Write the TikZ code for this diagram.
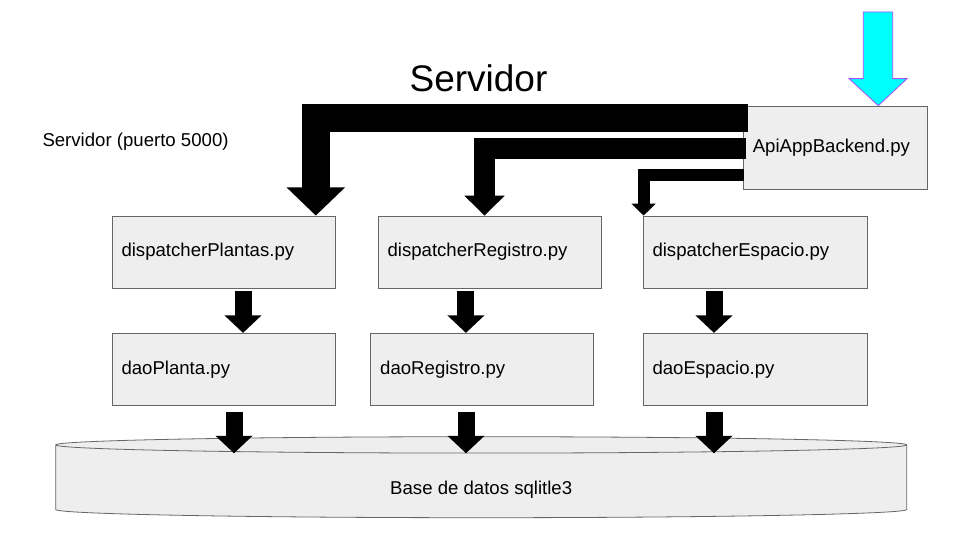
\documentclass[tikz,border=0pt]{standalone}
\usepackage{fontspec}
\setmainfont{Liberation Sans}
\usetikzlibrary{arrows.meta,shapes.geometric,calc}
\definecolor{relleno}{HTML}{EEEEEE}
\definecolor{borde}{HTML}{666666}
\definecolor{violeta}{HTML}{A94BFF}
\definecolor{celeste}{HTML}{00FFFF}
\begin{document}
\begin{tikzpicture}[x=1pt,y=-1pt,
    texto/.style={font=\fontsize{18.6}{22}\selectfont},
    caja/.style={texto,draw=borde,fill=relleno,line width=0.8pt,text width=204pt,
      inner xsep=9.5pt,minimum height=72pt,align=left},
    basedatos/.style={texto,cylinder,shape border rotate=90,aspect=0.09,draw=borde,
      fill=relleno,line width=0.8pt,minimum width=851pt,minimum height=81pt,inner sep=0pt,
      text height=29.6pt,text depth=3.9pt},
    flecha/.style={line width=17pt,-{Triangle[length=17.5pt,width=36pt]}}]
  \useasboundingbox (0,0) rectangle (960,540);
  \path
    (478.5,78) node[font=\fontsize{37}{44}\selectfont] (titulo) {Servidor}
    (42.3,142) node[texto,anchor=west,inner sep=0pt] (puerto) {Servidor (puerto 5000)}
    (835.5,147.7) node[caja,text width=165.4pt,minimum height=83.3pt] (api) {ApiAppBackend.py}
    (223.5,252) node[caja] (plantas) {dispatcherPlantas.py}
    (489.9,252) node[caja,text width=204.7pt] (registro) {dispatcherRegistro.py}
    (755,252) node[caja,text width=205pt] (espacio) {dispatcherEspacio.py}
    (223.5,369.3) node[caja] (daoplanta) {daoPlanta.py}
    (482,369.3) node[caja,text width=203.6pt] (daoregistro) {daoRegistro.py}
    (755,369.3) node[caja,text width=205pt] (daoespacio) {daoEspacio.py}
    (481.2,481.5) node[basedatos] (bd) {Base de datos sqlitle3};
  \coordinate (tapa) at (481.2,453.3);
  % peticiones que llegan
  \filldraw[fill=celeste,draw=violeta,line width=0.8pt] ([xshift=42.8pt]api.north)
    -- ++(-29.3,-27) -- ++(14.3,0) -- ++(0,-66.7) -- ++(29.4,0) -- ++(0,66.7)
    -- ++(14.3,0) -- cycle;
  \begin{scope}[line join=miter]
    \draw[flecha,line width=28.5pt,-{Triangle[length=28.3pt,width=57pt]}]
      ([xshift=5pt,yshift=29.5pt]api.west) -| ([xshift=92.3pt]plantas.north);
    \draw[flecha,line width=21pt,-{Triangle[length=20pt,width=39.3pt]}]
      ([xshift=3.4pt,yshift=-1pt]api.west) -| ([xshift=-5.4pt]registro.north);
    \draw[flecha,line width=12pt,-{Triangle[length=12pt,width=23.7pt]}]
      ([xshift=1pt,yshift=-27.8pt]api.west) -| ([xshift=1pt]espacio.north west);
    \draw[flecha] ($(plantas.south)+(19.5,3)$) -- ($(daoplanta.north)+(19.5,0)$);
    \draw[flecha] ($(registro.south)+(-24,3)$) -- ($(registro.south |- daoregistro.north)+(-24,0)$);
    \draw[flecha] ($(espacio.south)+(-41,3)$) -- ($(daoespacio.north)+(-41,0)$);
    \draw[flecha] ($(daoplanta.south)+(10.5,6)$) -- ($(daoplanta.south |- tapa)+(10.5,0)$);
    \draw[flecha] ($(daoregistro.south)+(-16,6)$) -- ($(daoregistro.south |- tapa)+(-16,0)$);
    \draw[flecha] ($(daoespacio.south)+(-41,6)$) -- ($(daoespacio.south |- tapa)+(-41,0)$);
  \end{scope}
\end{tikzpicture}
\end{document}
